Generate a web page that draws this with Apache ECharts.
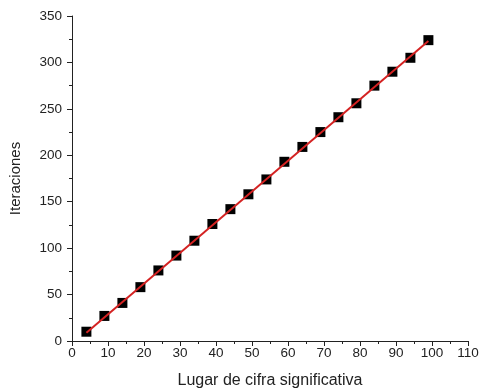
<!DOCTYPE html>
<html><head><meta charset="utf-8">
<script src="https://cdn.jsdelivr.net/npm/echarts@6/dist/echarts.min.js"></script>
<style>html,body{margin:0;padding:0;background:#fff}#c{width:479px;height:391px}</style>
</head><body><div id="c"></div>
<script>
var xValues = [4, 9, 14, 19, 24, 29, 34, 39, 44, 49, 54, 59, 64, 69, 74, 79, 84, 89, 94, 99];
var yValues = [10, 27, 41, 58, 76, 92, 108, 126, 142, 158, 174, 193, 209, 225, 241, 256, 275, 290, 305, 324];
var fitX = [4, 99];
var fitY = [9, 323];
var xTitle = 'Lugar de cifra significativa';
var yTitle = 'Iteraciones';

var pts = xValues.map(function(x, i){ return [x, yValues[i]]; });
var fit = fitX.map(function(x, i){ return [x, fitY[i]]; });
var font = 'Liberation Sans, Arial, sans-serif';
var chart = echarts.init(document.getElementById('c'));
chart.setOption({
  animation: false,
  grid: {left: 72, right: 11, top: 16, bottom: 50, containLabel: false, outerBoundsMode: 'none'},
  xAxis: {
    type: 'value', min: 0, max: 110, interval: 10,
    name: xTitle, nameLocation: 'middle', nameGap: 32,
    nameTextStyle: {fontFamily: font, fontSize: 16, color: '#222'},
    axisLine: {lineStyle: {color: '#222', width: 1}},
    axisTick: {inside: false, length: 5, lineStyle: {color: '#222'}},
    minorTick: {show: true, splitNumber: 2, length: 3, lineStyle: {color: '#222'}},
    axisLabel: {fontFamily: font, fontSize: 13.5, color: '#222', margin: 5},
    splitLine: {show: false}
  },
  yAxis: {
    type: 'value', min: 0, max: 350, interval: 50,
    name: yTitle, nameLocation: 'middle', nameGap: 49, nameRotate: 90,
    nameTextStyle: {fontFamily: font, fontSize: 15, color: '#222'},
    axisLine: {show: true, lineStyle: {color: '#222', width: 1}},
    axisTick: {show: true, inside: false, length: 5, lineStyle: {color: '#222'}},
    minorTick: {show: true, splitNumber: 2, length: 3, lineStyle: {color: '#222'}},
    axisLabel: {fontFamily: font, fontSize: 13.5, color: '#222', margin: 10},
    splitLine: {show: false}
  },
  series: [
    {type: 'scatter', data: pts, symbol: 'rect', symbolSize: 10,
     itemStyle: {color: '#000', opacity: 1}, z: 2},
    {type: 'line', data: fit, showSymbol: false, symbol: 'none',
     lineStyle: {color: '#d42222', width: 2}, z: 3}
  ]
});
</script></body></html>
